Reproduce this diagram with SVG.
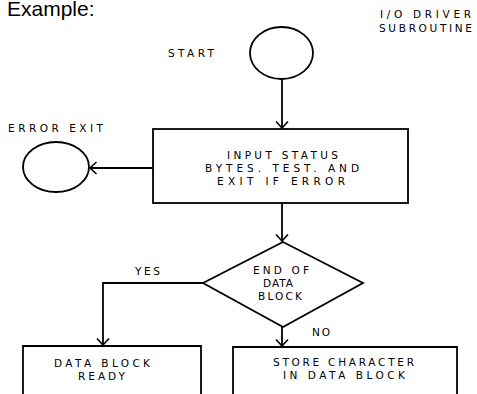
<svg xmlns="http://www.w3.org/2000/svg" width="477" height="394" viewBox="0 0 477 394">
<style>
.s{fill:none;stroke:#000;stroke-width:1.8}
.t{font-family:"DejaVu Sans","Liberation Sans",Arial,sans-serif;font-size:10.5px;fill:#000}
.h{font-family:"Liberation Sans",Arial,sans-serif;font-size:21px;fill:#000}
</style>
<defs>
<marker id="ah" viewBox="-8 -7 9 14" refX="0" refY="0" markerWidth="9" markerHeight="14" markerUnits="userSpaceOnUse" orient="auto">
<path d="M-6.5,-6 L0,0 L-6.5,6" fill="none" stroke="#000" stroke-width="1.6"/>
</marker>
</defs>
<rect width="477" height="394" fill="#fff"/>
<text class="h" x="7" y="16">Example:</text>
<g id="title">
<text class="t" x="380" y="18" textLength="91" lengthAdjust="spacing">I/O DRIVER</text>
<text class="t" x="379" y="32" textLength="93" lengthAdjust="spacing">SUBROUTINE</text>
</g>
<g id="start">
<ellipse class="s" cx="281.5" cy="53" rx="31.5" ry="26"/>
<text class="t" x="168" y="57" textLength="46" lengthAdjust="spacing">START</text>
</g>
<g id="error-exit">
<ellipse class="s" cx="56" cy="167" rx="33" ry="25"/>
<text class="t" x="8" y="132" textLength="95" lengthAdjust="spacing">ERROR EXIT</text>
</g>
<g id="input-status">
<rect class="s" x="153" y="129" width="255" height="74"/>
<text class="t" x="227" y="159" textLength="111" lengthAdjust="spacing">INPUT STATUS</text>
<text class="t" x="205" y="172" textLength="154" lengthAdjust="spacing">BYTES. TEST. AND</text>
<text class="t" x="217" y="185" textLength="128" lengthAdjust="spacing">EXIT IF ERROR</text>
</g>
<g id="end-of-block">
<polygon class="s" points="283,242 363,283 283,327 203,283"/>
<text class="t" x="253" y="274" textLength="56" lengthAdjust="spacing">END OF</text>
<text class="t" x="263" y="287" textLength="30" lengthAdjust="spacing">DATA</text>
<text class="t" x="258" y="299.5" textLength="44" lengthAdjust="spacing">BLOCK</text>
</g>
<g id="data-ready">
<path class="s" d="M23,394 L23,346 L201,346 L201,394"/>
<text class="t" x="54" y="367" textLength="96" lengthAdjust="spacing">DATA BLOCK</text>
<text class="t" x="78" y="379.5" textLength="47" lengthAdjust="spacing">READY</text>
</g>
<g id="store-char">
<path class="s" d="M233,394 L233,347 L457,347 L457,394"/>
<text class="t" x="273" y="366" textLength="141" lengthAdjust="spacing">STORE CHARACTER</text>
<text class="t" x="283" y="378.5" textLength="122" lengthAdjust="spacing">IN DATA BLOCK</text>
</g>
<g id="connectors">
<path class="s" d="M282,79 L282,128" marker-end="url(#ah)"/>
<path class="s" d="M153,168 L90,168" marker-end="url(#ah)"/>
<path class="s" d="M282,203 L282,241" marker-end="url(#ah)"/>
<path class="s" d="M203,283 L103,283 L103,345" marker-end="url(#ah)"/>
<path class="s" d="M282,327 L282,346" marker-end="url(#ah)"/>
<text class="t" x="135" y="275" textLength="25" lengthAdjust="spacing">YES</text>
<text class="t" x="312" y="336" textLength="18" lengthAdjust="spacing">NO</text>
</g>
</svg>
